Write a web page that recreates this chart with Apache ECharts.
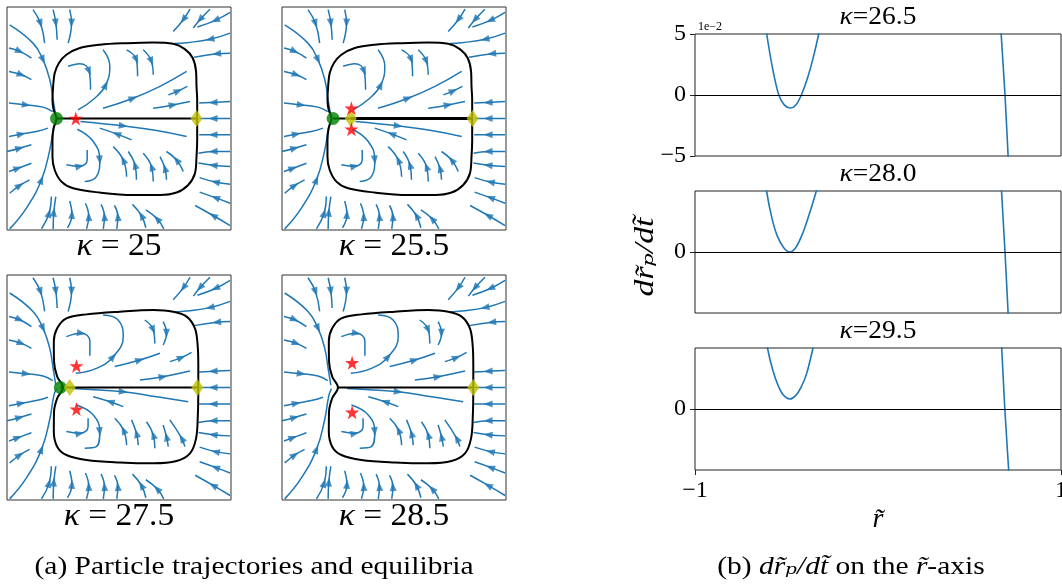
<!DOCTYPE html>
<html><head><meta charset="utf-8">
<script src="https://cdn.jsdelivr.net/npm/echarts@6/dist/echarts.min.js"></script>
<style>html,body{margin:0;padding:0;background:#fff}#c{width:1062px;height:586px}</style>
</head><body><div id="c"></div>
<script>
// ---------------- DATA ----------------
// (a) panels: coordinates in a 0..100 box (x right, y up)
const panelKappas = ['25', '25.5', '27.5', '28.5'];

const outerStreams = [
  [[11.6,98.8],[15,92.5],[16.8,83.8]],
  [[20.6,98.8],[21.8,92.8],[22.4,85.3]],
  [[28,98.8],[28.8,92.8],[27.3,83.8]],
  [[1.2,92],[11.6,83.8],[16.1,76.3],[19.1,67.4],[20.6,58.4],[21.8,51]],
  [[0.9,81.6],[5.7,80.1],[10.9,77.1]],
  [[0.9,71.1],[6.4,69.6],[10.9,67.4]],
  [[0.9,56.9],[8.6,56.1],[16.1,55.1],[20.4,53.1]],
  [[0.9,41.9],[6.4,43],[13.1,44.2],[18.3,45.7]],
  [[0,35.2],[5.7,36.7],[10.9,38.2]],
  [[0.9,26.2],[4.9,27.7],[10.9,29.9]],
  [[1.2,16.5],[5.7,20],[10.1,22.5]],
  [[1.2,0.5],[8.6,9.7],[15.4,22.5],[19.1,35.9],[20.9,46.4],[22.1,49.5]],
  [[15.4,0.5],[18.8,7.5],[19.8,15]],
  [[20.6,0.5],[20.9,8],[21.8,15]],
  [[27,1],[29,7],[28,13]],
  [[35.5,0.5],[36.5,6],[35,12]],
  [[43,0.5],[43.5,6],[42,11.5]],
  [[49,0.5],[49.5,6],[48,11]],
  [[62,1],[60,6.5],[56,11.5]],
  [[70,0.5],[67,5],[62,9]],
  [[99.6,2],[92,6.5],[84,11]],
  [[99.6,12],[93,14.5],[86,17]],
  [[99.6,20.5],[93,21.5],[86,23.5]],
  [[99.6,28.5],[92,29],[85.5,30]],
  [[99.6,35.2],[92,35.2],[85.5,34.4]],
  [[99.6,42.7],[92,42.7],[85.8,42.7]],
  [[99.6,50],[92,50],[86,50]],
  [[99.6,57.6],[92,57.2],[85.8,56.9]],
  [[99.6,79.3],[93.6,79],[83.5,77.5]],
  [[99.6,88.3],[90.6,85.5],[80.2,84],[75,83.6]],
  [[99.6,97.6],[93,94],[85,91]],
  [[90.6,99],[86.1,94.3],[83.2,90.6]],
  [[81.7,99],[78.7,94.3],[74.2,89]]
];

const innerStreamsTop = [
  [[27.3,73.4],[32.5,74.6],[36.7,71.1],[37.3,62.9]],
  [[31.7,53.9],[39.2,59.1],[44.1,65.1],[45.9,73.4],[42.9,80.8]],
  [[53.4,80.8],[57.8,76.3],[58.3,68.9]],
  [[60.8,80.8],[64.5,75.6],[65.3,69.6]],
  [[42.9,54.6],[56.3,59.1],[68.3,64.4],[80.2,71.1]],
  [[72,60.6],[76.5,62.4],[80.5,64.4]],
  [[65.3,54.6],[74.2,56.1],[81.7,57.6]],
  [[26.5,29.3],[32.5,28.6],[35.8,31.4],[35.8,35.9]],
  [[31.4,45.2],[38.5,39.7],[41.4,31.4],[39.9,23.9],[34.7,21.7]],
  [[32.8,48.7],[51.9,46.7],[66.8,44.6],[80.2,41.9]],
  [[55.6,40.4],[48.9,43.1],[41.4,45.7]],
  [[53.4,23.9],[51.9,31.4],[47.4,37.4]],
  [[57.8,22.5],[57.1,29.2],[54.1,35.2]],
  [[65.3,21.7],[64.5,28.4],[60.8,34.4]],
  [[71.2,22.5],[70.5,27.7],[68.3,32.9]],
  [[78.7,26.2],[75.7,31.4],[71.2,35.2]]
];

const innerStreamsBottom = [
  [[26.5,72.6],[33.2,74.1],[37,70.7],[37,64.1]],
  [[30.7,56.3],[39.9,58.5],[47.4,63.7],[51.9,72.6],[49.6,80],[42.9,82.2]],
  [[61.5,80],[65.3,75.6],[66,69.6]],
  [[69.7,79.3],[71.2,74.1],[69.7,68.9]],
  [[48.1,59.3],[59.3,62.2],[68.3,65.2]],
  [[72.7,61.5],[77.9,63.3],[82.4,65.6]],
  [[59.3,53.3],[69.7,54.8],[81.7,57.3]],
  [[26.5,30.4],[32.5,29.6],[36.2,32.6],[36.2,36.3]],
  [[31,42.2],[38.5,37.8],[41.4,30.4],[39.9,23.7],[34.7,23]],
  [[29,49.6],[51.9,48.1],[66.8,45.9],[80.9,43.7]],
  [[51.9,41.5],[46,43.7],[38.5,45.9]],
  [[53.4,24.4],[52,31.1],[48.1,36.3]],
  [[58.6,24.4],[57.8,29.6],[55.6,35.6]],
  [[66,23],[65.3,28.9],[62.3,34.8]],
  [[72,23.7],[71.2,28.1],[69.7,33.3]],
  [[79.4,23.7],[78,27.4],[72.7,35.6]]
];

const boundaryTop = [
  [84.9,50],[84.9,58.4],[84.6,64.4],[84.4,71.1],[82.9,77.1],[79.4,81.1],[74.2,83.5],[65.3,84.1],
  [53.4,83.8],[41.4,83.1],[32.5,81.6],[26.5,78.6],[23.2,74.9],[21.3,70.4],[20.6,64.4],[20.3,58.4],
  [20.8,54],[22.1,50],[20.8,45.5],[20.3,40.4],[20.3,32.9],[21.3,26.9],[24.3,21.7],[29.5,18.7],
  [41.4,16.8],[56.3,15.7],[68.3,15.7],[75.7,16.8],[80.9,20.2],[83.9,25.4],[84.6,32.9],[84.9,40.4],[84.9,50]
];
const boundaryBottom = [
  [85.4,50],[85.4,60],[85.1,68.9],[83.9,76.3],[80.2,81.5],[74.2,83.7],[65.3,84.4],[50.4,83.7],
  [35.5,82.5],[26.5,80.7],[22.4,76.3],[20.9,70.4],[21,61.5],[22.4,54.8],[25,50],[22.4,45.2],
  [21,39.3],[20.9,30.4],[22.4,23.7],[26.5,20],[35.5,17.8],[50.4,16.7],[65.3,16.3],[75.7,17.3],
  [81.7,20.7],[84.4,27.4],[85.2,37.8],[85.4,50]
];

const centerLines = [
  [[22.1,50],[84.9,50]],
  [[22.8,50],[85.1,50]],
  [[23.8,50],[85,50]],
  [[25,50],[85.4,50]]
];
const secondCenterLine = [[], [[30.7,50],[85.1,50]], [], []];
const greenPts = [[[22.1,50]], [[22.8,50]], [[23.8,50]], []];
const starPts = [[[30.7,50]], [[31,54.6],[31,45.2]], [[31,59.6],[31,40.4]], [[31.3,61],[31.3,39]]];
const diamondPts = [[[84.6,50]], [[30.7,50],[85.1,50]], [[28,50],[85,50]], [[85.4,50]]];

// (b) panels: dr_p/dt (units of 1e-2) against r
const rightKappas = ['26.5', '28.0', '29.5'];
const curveWell = [
  [[-0.64,8.5],[-0.608,5],[-0.575,2.1],[-0.542,0],[-0.51,-0.85],[-0.477,-1.07],[-0.448,-0.8],[-0.419,0],[-0.385,1.4],[-0.355,3.0],[-0.324,5],[-0.30,6.8]],
  [[-0.64,8.4],[-0.609,5],[-0.58,2.8],[-0.55,1.3],[-0.515,0.35],[-0.482,0],[-0.45,0.35],[-0.415,1.4],[-0.38,2.9],[-0.337,5],[-0.31,6.6]],
  [[-0.635,8],[-0.604,5],[-0.575,3.2],[-0.545,1.9],[-0.515,1.1],[-0.482,0.82],[-0.45,1.1],[-0.42,1.8],[-0.39,2.9],[-0.355,5],[-0.33,6.7]]
];
const curveSteep = [
  [[0.66,8.5],[0.673,5],[0.694,0],[0.711,-5],[0.72,-7.5]],
  [[0.662,8.5],[0.675,5],[0.694,0],[0.711,-5],[0.72,-7.5]],
  [[0.663,8.5],[0.676,5],[0.693,0],[0.714,-5],[0.722,-7]]
];
const yTickValues = [[5, 0, -5], [0], [0]];
const xTickValues = [-1, 1];

// ---------------- LAYOUT / STYLE ----------------
const SERIF = "'Liberation Serif','DejaVu Serif',serif";
const BLUE = '#1f77b4';
const leftBoxes = [
  {left:7, top:7, width:224, height:223},
  {left:282, top:7, width:224, height:223},
  {left:7, top:275, width:224, height:225},
  {left:282, top:275, width:224, height:225}
];
const rightBoxes = [
  {left:695, top:34, width:366, height:122},
  {left:695, top:191, width:366, height:122},
  {left:695, top:348, width:366, height:122}
];
const STAR = 'path://M50,0 L61.2,34.5 L97.6,34.5 L68.2,55.9 L79.4,90.5 L50,69.1 L20.6,90.5 L31.8,55.9 L2.4,34.5 L38.8,34.5 Z';

function arrowOf(pts) {
  let lens = [], L = 0;
  for (let i = 1; i < pts.length; i++) {
    const d = Math.hypot(pts[i][0]-pts[i-1][0], pts[i][1]-pts[i-1][1]);
    lens.push(d); L += d;
  }
  let acc = 0, best = 1, bestD = Infinity;
  for (let i = 1; i < pts.length - 1; i++) {
    acc += lens[i-1];
    const dd = Math.abs(acc - L/2);
    if (dd < bestD) { bestD = dd; best = i; }
  }
  const a = pts[best-1], b = pts[best+1], p = pts[best];
  const ang = Math.atan2(b[1]-a[1], b[0]-a[0]) * 180 / Math.PI;
  return {value: [p[0], p[1]], symbolRotate: ang - 90};
}

const gridBase = {show:true, borderWidth:1, backgroundColor:'transparent', containLabel:false, outerBoundsMode:'none'};
const grids = [], xAxes = [], yAxes = [], series = [];
leftBoxes.forEach((b, p) => {
  grids.push(Object.assign({}, gridBase, {borderColor:'#333'}, b));
  xAxes.push({gridIndex:p, type:'value', min:0, max:100, show:false});
  yAxes.push({gridIndex:p, type:'value', min:0, max:100, show:false});
  const streams = outerStreams.concat(p < 2 ? innerStreamsTop : innerStreamsBottom);
  streams.forEach(s => {
    series.push({type:'line', xAxisIndex:p, yAxisIndex:p, data:s, smooth:0.45, symbol:'none',
      silent:true, z:2, lineStyle:{color:BLUE, width:1.5}});
  });
  series.push({type:'scatter', xAxisIndex:p, yAxisIndex:p, data:streams.map(arrowOf),
    symbol:'triangle', symbolSize:[7,9], silent:true, z:3, itemStyle:{color:BLUE}});
  const bnd = p < 2 ? boundaryTop : boundaryBottom;
  series.push({type:'line', xAxisIndex:p, yAxisIndex:p, data:bnd, smooth:0.35, symbol:'none',
    silent:true, z:4, lineStyle:{color:'#000', width:2}});
  series.push({type:'line', xAxisIndex:p, yAxisIndex:p, data:centerLines[p], symbol:'none',
    silent:true, z:4, lineStyle:{color:'#000', width:2}});
  if (secondCenterLine[p].length) series.push({type:'line', xAxisIndex:p, yAxisIndex:p, data:secondCenterLine[p], symbol:'none',
    silent:true, z:4, lineStyle:{color:'#000', width:3.2}});
  series.push({type:'scatter', xAxisIndex:p, yAxisIndex:p, data:greenPts[p], symbol:'circle', symbolSize:13,
    silent:true, z:6, itemStyle:{color:'#008000'}});
  series.push({type:'scatter', xAxisIndex:p, yAxisIndex:p, data:diamondPts[p], symbol:'diamond', symbolSize:[12,17],
    silent:true, z:7, itemStyle:{color:'#bfbf00'}});
  series.push({type:'scatter', xAxisIndex:p, yAxisIndex:p, data:starPts[p], symbol:STAR, symbolSize:14,
    silent:true, z:8, itemStyle:{color:'#ff0000'}});
});

const fmtNum = v => (v < 0 ? '\u2212' + Math.abs(v) : String(v));
rightBoxes.forEach((b, k) => {
  const gi = 4 + k;
  grids.push(Object.assign({}, gridBase, {borderColor:'#222'}, b));
  const last = k === 2;
  xAxes.push({gridIndex:gi, type:'value', min:-1, max:1, interval:2,
    axisLine:{show:false, onZero:false}, splitLine:{show:false},
    axisTick:{show:last, length:5, lineStyle:{color:'#222'}, customValues:xTickValues},
    axisLabel:{show:last, margin:9, color:'#000', fontFamily:SERIF, fontSize:24, formatter:fmtNum,
      customValues:xTickValues, showMinLabel:true, showMaxLabel:true, hideOverlap:false}});
  yAxes.push({gridIndex:gi, type:'value', min:-5, max:5, interval:5,
    axisLine:{show:false, onZero:false}, splitLine:{show:false},
    axisTick:{show:true, length:5, lineStyle:{color:'#222'}, customValues:yTickValues[k]},
    axisLabel:{margin:9, color:'#000', fontFamily:SERIF, fontSize:24, customValues:yTickValues[k],
      formatter: v => (yTickValues[k].indexOf(v) >= 0 ? fmtNum(v) : '')}});
  series.push({type:'line', xAxisIndex:gi, yAxisIndex:gi, data:curveWell[k], smooth:0.3, symbol:'none',
    silent:true, z:3, lineStyle:{color:BLUE, width:1.6},
    markLine:{silent:true, symbol:'none', label:{show:false}, data:[{yAxis:0}],
      lineStyle:{color:'#000', width:1, type:'solid'}, animation:false}});
  series.push({type:'line', xAxisIndex:gi, yAxisIndex:gi, data:curveSteep[k], smooth:0.2, symbol:'none',
    silent:true, z:3, lineStyle:{color:BLUE, width:1.6}});
});

const it = {fontStyle:'italic', fontFamily:SERIF};
const graphic = [];
function txt(x, y, text, size, extra, rich) {
  const style = {text:text, fontFamily:SERIF, fontSize:size, fill:'#000',
    align:'center', verticalAlign:'middle', textAlign:'center', textVerticalAlign:'middle'};
  if (rich) style.rich = rich;
  return Object.assign({type:'text', x:x, y:y, silent:true, style:style}, extra || {});
}
leftBoxes.forEach((b, p) => {
  graphic.push(txt(b.left + b.width/2, (p < 2 ? 247 : 517), '{i|\u03ba} = ' + panelKappas[p], 31,
    {scaleX:1.08}, {i:Object.assign({fontSize:31, fill:'#000'}, it), n:{fontSize:31, fill:'#000', fontFamily:SERIF}}));
});
const titleY = [17, 174, 331];
rightBoxes.forEach((b, k) => {
  graphic.push(txt(b.left + 183, titleY[k], '{i|\u03ba}=' + rightKappas[k], 25,
    {scaleX:1.1}, {i:Object.assign({fontSize:25, fill:'#000'}, it)}));
});
graphic.push({type:'text', x:698, y:27, silent:true, style:{text:'1e\u22122', fontFamily:SERIF, fontSize:12, fill:'#000',
  align:'left', verticalAlign:'middle', textAlign:'left', textVerticalAlign:'middle'}});
graphic.push(txt(646, 257, 'd\u0072\u0303\u209a/d\u0074\u0303', 28, {rotation:Math.PI/2, scaleX:1.2}, null));
graphic[graphic.length-1].style.fontStyle = 'italic';
graphic.push(txt(878, 520, '\u0072\u0303', 28, null, null));
graphic[graphic.length-1].style.fontStyle = 'italic';
graphic.push(txt(254, 567, '(a) Particle trajectories and equilibria', 25, {scaleX:1.18}, null));
graphic.push(txt(851, 567, '(b) {i|d\u0072\u0303\u209a/d\u0074\u0303} on the {i|\u0072\u0303}-axis', 25, {scaleX:1.18},
  {i:Object.assign({fontSize:25, fill:'#000'}, it)}));

const chart = echarts.init(document.getElementById('c'), null, {renderer:'canvas'});
chart.setOption({animation:false, backgroundColor:'#fff', grid:grids, xAxis:xAxes, yAxis:yAxes, series:series, graphic:graphic});
</script></body></html>
